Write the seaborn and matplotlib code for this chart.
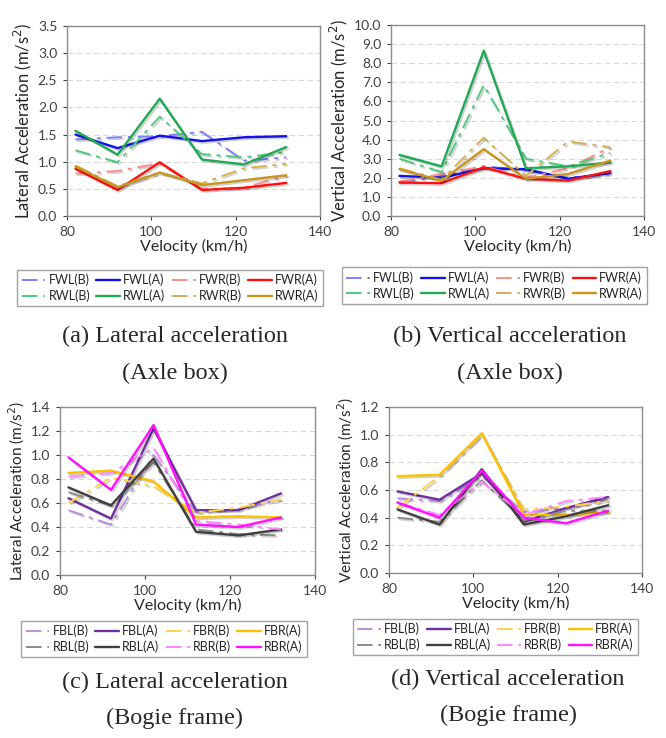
import numpy as np
import pandas as pd
import matplotlib
matplotlib.use("Agg")
import matplotlib.pyplot as plt
import matplotlib.patheffects as pe
import seaborn as sns

# ==========================
# Data
# ==========================

velocity = [82, 92, 102, 112, 122, 132]

axle_names = ["FWL(B)", "FWL(A)", "FWR(B)", "FWR(A)",
              "RWL(B)", "RWL(A)", "RWR(B)", "RWR(A)"]
bogie_names = ["FBL(B)", "FBL(A)", "FBR(B)", "FBR(A)",
               "RBL(B)", "RBL(A)", "RBR(B)", "RBR(A)"]

# (a) lateral, axle box
lat_axle = {
    "FWL(B)": [1.41, 1.45, 1.47, 1.55, 1.02, 1.08],
    "FWL(A)": [1.50, 1.25, 1.48, 1.38, 1.45, 1.47],
    "FWR(B)": [0.78, 0.83, 0.97, 0.50, 0.52, 0.75],
    "FWR(A)": [0.87, 0.48, 0.99, 0.48, 0.52, 0.61],
    "RWL(B)": [1.21, 0.99, 1.83, 1.14, 1.08, 1.18],
    "RWL(A)": [1.57, 1.13, 2.16, 1.04, 0.95, 1.27],
    "RWR(B)": [0.93, 0.55, 0.80, 0.60, 0.88, 0.96],
    "RWR(A)": [0.91, 0.53, 0.80, 0.57, 0.66, 0.75],
}

# (b) vertical, axle box
vert_axle = {
    "FWL(B)": [1.80, 2.10, 2.60, 2.40, 2.00, 2.20],
    "FWL(A)": [2.10, 2.00, 2.50, 2.45, 1.95, 2.25],
    "FWR(B)": [1.80, 2.20, 2.60, 2.00, 2.50, 3.60],
    "FWR(A)": [1.75, 1.72, 2.55, 1.95, 1.85, 2.35],
    "RWL(B)": [3.00, 2.30, 6.85, 3.00, 2.60, 3.30],
    "RWL(A)": [3.20, 2.60, 8.65, 2.50, 2.60, 2.80],
    "RWR(B)": [2.50, 1.90, 4.10, 2.10, 3.90, 3.60],
    "RWR(A)": [2.45, 1.85, 3.50, 1.95, 2.20, 2.90],
}

# (c) lateral, bogie frame
lat_bogie = {
    "FBL(B)": [0.54, 0.42, 1.00, 0.52, 0.55, 0.63],
    "FBL(A)": [0.64, 0.47, 1.22, 0.54, 0.54, 0.68],
    "FBR(B)": [0.60, 0.81, 0.74, 0.52, 0.56, 0.63],
    "FBR(A)": [0.85, 0.87, 0.78, 0.48, 0.49, 0.48],
    "RBL(B)": [0.69, 0.58, 0.94, 0.38, 0.34, 0.33],
    "RBL(A)": [0.73, 0.58, 0.97, 0.36, 0.33, 0.38],
    "RBR(B)": [0.82, 0.85, 1.06, 0.45, 0.42, 0.38],
    "RBR(A)": [0.98, 0.71, 1.25, 0.42, 0.40, 0.48],
}

# (d) vertical, bogie frame
vert_bogie = {
    "FBL(B)": [0.54, 0.52, 0.70, 0.44, 0.47, 0.53],
    "FBL(A)": [0.59, 0.53, 0.72, 0.37, 0.47, 0.55],
    "FBR(B)": [0.47, 0.70, 1.00, 0.46, 0.48, 0.52],
    "FBR(A)": [0.70, 0.71, 1.01, 0.42, 0.42, 0.44],
    "RBL(B)": [0.40, 0.37, 0.67, 0.38, 0.45, 0.45],
    "RBL(A)": [0.46, 0.35, 0.75, 0.35, 0.41, 0.49],
    "RBR(B)": [0.51, 0.42, 0.66, 0.42, 0.52, 0.55],
    "RBR(A)": [0.51, 0.40, 0.74, 0.40, 0.36, 0.45],
}

axle_colors = {
    "FWL(B)": "#8080ff", "FWL(A)": "#1010e8",
    "FWR(B)": "#ff8c8c", "FWR(A)": "#ff1010",
    "RWL(B)": "#50c880", "RWL(A)": "#20a855",
    "RWR(B)": "#d4b055", "RWR(A)": "#c8961e",
}
bogie_colors = {
    "FBL(B)": "#b890dc", "FBL(A)": "#7030a0",
    "FBR(B)": "#ffd24a", "FBR(A)": "#ffc000",
    "RBL(B)": "#8a8a8a", "RBL(A)": "#404040",
    "RBR(B)": "#ff88ff", "RBR(A)": "#ff10ff",
}

captions = [
    ("(a) Lateral acceleration", "(Axle box)"),
    ("(b) Vertical acceleration", "(Axle box)"),
    ("(c) Lateral acceleration", "(Bogie frame)"),
    ("(d) Vertical acceleration", "(Bogie frame)"),
]

# ==========================
# Style
# ==========================

sns.set_style("white")
plt.rcParams["font.family"] = ["Lato", "DejaVu Sans"]

fig = plt.figure(figsize=(6.66, 7.38), dpi=100)
W, H = 666, 738


def px_axes(left, top, right, bottom):
    return fig.add_axes([left / W, 1 - bottom / H,
                         (right - left) / W, (bottom - top) / H])


panels = [
    dict(data=lat_axle, names=axle_names, colors=axle_colors,
         box=(67, 26, 320, 216), ylim=3.5, ystep=0.5,
         ylabel="Lateral Acceleration (m/s$^2$)", ylsize=12,
         legend=(17, 267, 323, 309), cap_x=175, cap_y=(336, 373)),
    dict(data=vert_axle, names=axle_names, colors=axle_colors,
         box=(391, 25, 644, 216), ylim=10.0, ystep=1.0,
         ylabel="Vertical Acceleration (m/s$^2$)", ylsize=12,
         legend=(342, 264, 647, 307), cap_x=510, cap_y=(336, 373)),
    dict(data=lat_bogie, names=bogie_names, colors=bogie_colors,
         box=(60, 407, 315, 575), ylim=1.4, ystep=0.2,
         ylabel="Lateral Acceleration (m/s$^2$)", ylsize=11,
         legend=(15, 617, 313, 661), cap_x=175, cap_y=(682, 718)),
    dict(data=vert_bogie, names=bogie_names, colors=bogie_colors,
         box=(389, 407, 642, 573), ylim=1.2, ystep=0.2,
         ylabel="Vertical Acceleration (m/s$^2$)", ylsize=11,
         legend=(345, 616, 646, 658), cap_x=508, cap_y=(679, 715)),
]

shadow = [pe.SimpleLineShadow(offset=(1.2, -1.2), alpha=0.18, shadow_color="k"),
          pe.Normal()]

for i, p in enumerate(panels):
    ax = px_axes(*p["box"])
    handles = {}
    for name in p["names"]:
        before = name.endswith("(B)")
        sns.lineplot(
            x=velocity,
            y=p["data"][name],
            ax=ax,
            color=p["colors"][name],
            linewidth=1.4 if before else 1.7,
            linestyle=(0, (8, 3, 2, 3)) if before else "-",
            label=name,
            legend=False,
        )
        line = ax.get_lines()[-1]
        line.set_path_effects(shadow)
        handles[name] = line

    ax.set_xlim(80, 140)
    ax.set_ylim(0, p["ylim"])
    ax.set_xticks([80, 100, 120, 140])
    ax.set_yticks(np.arange(0, p["ylim"] + p["ystep"] / 2, p["ystep"]))
    ax.yaxis.set_major_formatter(matplotlib.ticker.FormatStrFormatter("%.1f"))
    ax.tick_params(labelsize=10, colors="#404040", length=3, pad=4,
                   direction="out", bottom=True, left=True)
    ax.grid(axis="y", color="#d9d9d9", linestyle=(0, (5, 3)), linewidth=0.8)
    ax.set_axisbelow(True)
    for s in ax.spines.values():
        s.set_color("#8c8c8c")
        s.set_linewidth(1.0)

    ax.set_xlabel("Velocity (km/h)", fontsize=11.5, color="#262626", labelpad=1)
    ax.set_ylabel(p["ylabel"], fontsize=p["ylsize"], color="#262626", labelpad=3)

    # legend: 2 rows x 4 columns, matplotlib fills by column
    order = [0, 4, 1, 5, 2, 6, 3, 7]
    hl = [handles[p["names"][k]] for k in order]
    lab = [p["names"][k] for k in order]
    l0, t0, r0, b0 = p["legend"]
    leg = fig.legend(
        hl, lab,
        loc="center",
        bbox_to_anchor=((l0 + r0) / 2 / W, 1 - (t0 + b0) / 2 / H),
        ncol=4,
        fontsize=9,
        handlelength=1.9,
        handletextpad=0.25,
        columnspacing=0.5,
        labelspacing=0.25,
        borderpad=0.35,
        borderaxespad=0,
        fancybox=False,
        frameon=True,
        edgecolor="#8c8c8c",
    )
    leg.get_frame().set_linewidth(1.0)
    for line in leg.get_lines():
        line.set_path_effects([])

    cap1, cap2 = captions[i]
    fig.text(p["cap_x"] / W, 1 - p["cap_y"][0] / H, cap1,
             ha="center", va="center", fontsize=17.5,
             family=["Liberation Serif", "DejaVu Serif"])
    fig.text(p["cap_x"] / W, 1 - p["cap_y"][1] / H, cap2,
             ha="center", va="center", fontsize=17.5,
             family=["Liberation Serif", "DejaVu Serif"])

fig.savefig("out.png", dpi=100, facecolor="white")
plt.close(fig)
